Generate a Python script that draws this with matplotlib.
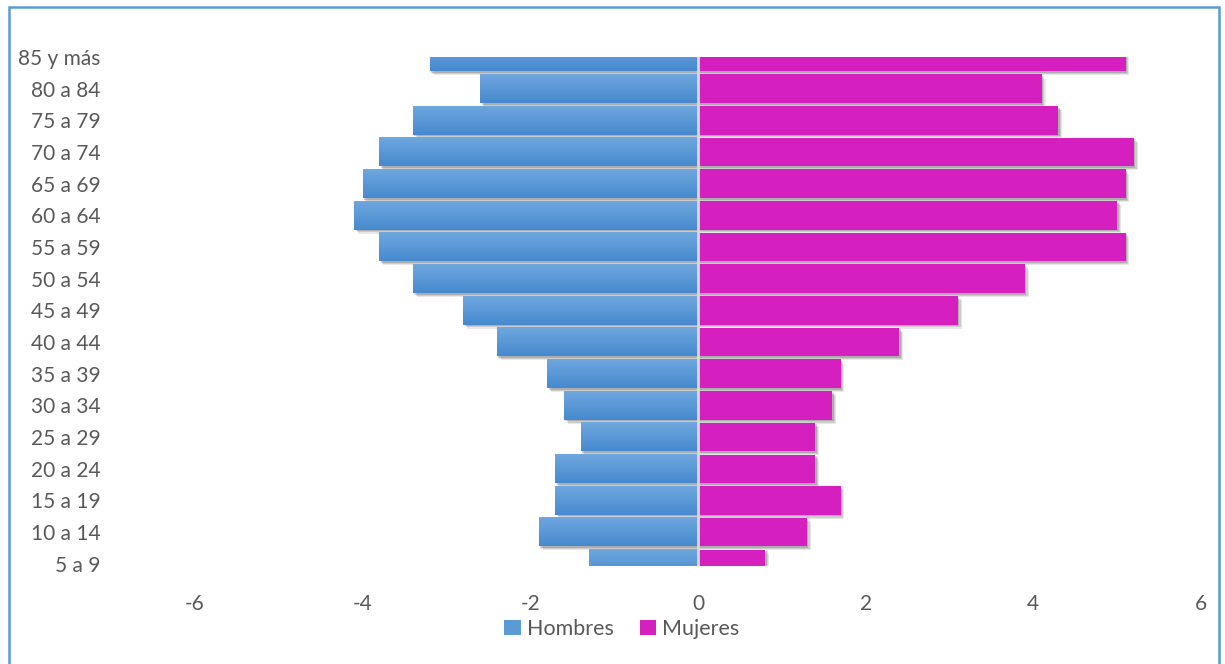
import numpy as np
import matplotlib
matplotlib.use("Agg")
from matplotlib import pyplot as plt
from matplotlib.patches import Rectangle, Patch
from matplotlib.colors import LinearSegmentedColormap

# datos (de 5 a 9 hasta 85 y más)
grupos = ["5 a 9", "10 a 14", "15 a 19", "20 a 24", "25 a 29", "30 a 34",
          "35 a 39", "40 a 44", "45 a 49", "50 a 54", "55 a 59", "60 a 64",
          "65 a 69", "70 a 74", "75 a 79", "80 a 84", "85 y más"]
hombres = [-1.3, -1.9, -1.7, -1.7, -1.4, -1.6, -1.8, -2.4, -2.8, -3.4,
           -3.8, -4.1, -4.0, -3.8, -3.4, -2.6, -3.2]
mujeres = [0.8, 1.3, 1.7, 1.4, 1.4, 1.6, 1.7, 2.4, 3.1, 3.9,
           5.1, 5.0, 5.1, 5.2, 4.3, 4.1, 5.1]
xticks = [-6, -4, -2, 0, 2, 4, 6]

plt.rcParams['font.family'] = ['Lato', 'DejaVu Sans']
texto = '#595959'
azul_cm = LinearSegmentedColormap.from_list('azul', ['#4689cf', '#6fa7de'])
magenta = '#d51fbf'

W, H = 1225, 664
fig = plt.figure(figsize=(W / 100, H / 100), dpi=100)
ax = fig.add_axes([195 / W, 1 - 566 / H, (1201 - 195) / W, (566 - 57) / H])

y = np.arange(len(grupos))
alto = 0.9

def sombra(x0, ancho, yc):
    # sombra difusa abajo a la derecha
    for k, a in zip([0.13, 0.09, 0.05], [0.12, 0.16, 0.22]):
        ax.add_patch(Rectangle((x0 + k * 0.35, yc - alto / 2 - k), ancho, alto,
                               facecolor='#404040', alpha=a, lw=0, zorder=1))

for yi, h, m in zip(y, hombres, mujeres):
    sombra(h, -h, yi)
    sombra(0, m, yi)

barras_h = ax.barh(y, hombres, height=alto, color='#5b9bd5', lw=0, zorder=2)
for b in barras_h:
    x0, y0 = b.get_x(), b.get_y()
    grad = np.linspace(0, 1, 64).reshape(-1, 1)
    ax.imshow(grad, cmap=azul_cm, aspect='auto', origin='lower',
              extent=[x0, x0 + b.get_width(), y0, y0 + b.get_height()],
              zorder=3, interpolation='bilinear')
ax.barh(y, mujeres, height=alto, color=magenta, lw=0, zorder=2)

ax.axvline(0, color='#d9d9d9', lw=2, zorder=4)

ax.set_xlim(-6, 6)
ax.set_ylim(-0.07, 16.0)
ax.set_xticks(xticks)
ax.set_xticklabels([str(t) for t in xticks])
ax.set_yticks(y)
ax.set_yticklabels(grupos)
ax.tick_params(axis='both', length=0, labelsize=15, colors=texto)
ax.tick_params(axis='y', pad=68)
ax.tick_params(axis='x', pad=20)
for s in ax.spines.values():
    s.set_visible(False)

# leyenda
h_leg = [Patch(facecolor='#5b9bd5', lw=0), Patch(facecolor=magenta, lw=0)]
fig.legend(h_leg, ['Hombres', 'Mujeres'], loc='center',
           bbox_to_anchor=(622 / W, 1 - 629 / H), ncol=2, frameon=False,
           fontsize=15.5, handlelength=0.75, handleheight=0.75,
           handletextpad=0.3, columnspacing=1.2, labelcolor=texto)

# marco del gráfico
fig.add_artist(Rectangle((9 / W, -0.05), (1219 - 9) / W, 1.05 - 7 / H,
                         transform=fig.transFigure, fill=False,
                         edgecolor='#5b9bd5', lw=1.8))

fig.savefig('out.png', dpi=100)
